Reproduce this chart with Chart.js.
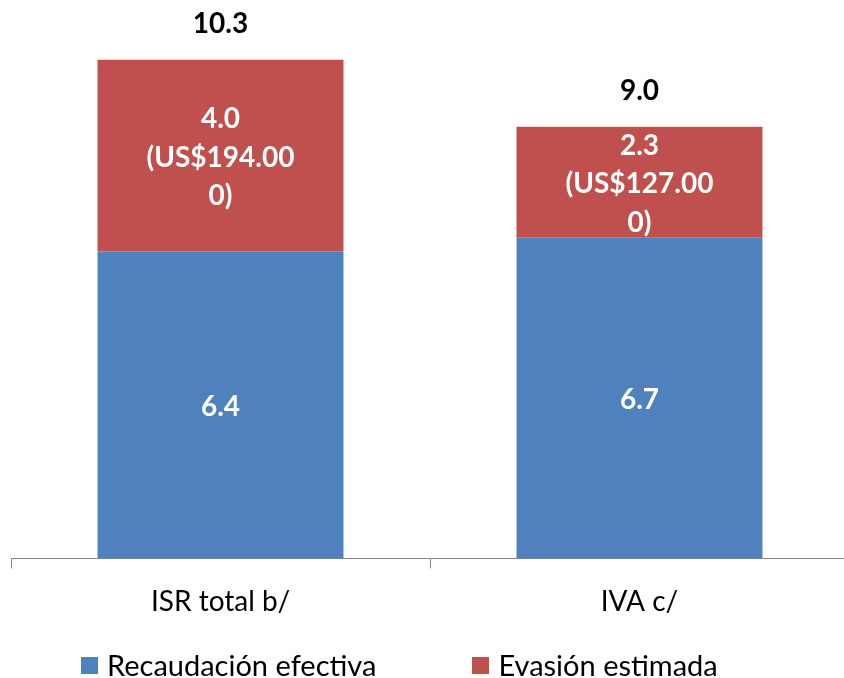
<!DOCTYPE html>
<html>
<head>
<meta charset="utf-8">
<script src="https://cdn.jsdelivr.net/npm/chart.js@4/dist/chart.umd.min.js"></script>
<style>
    html, body { margin: 0; padding: 0; background: #fff; overflow: hidden; }
    #wrap { position: relative; width: 844px; height: 678px; overflow: hidden; }
    #legend {
        position: absolute; left: 81px; top: 647px;
        display: flex; align-items: center; gap: 96px;
        font-family: Lato, sans-serif; font-size: 29px; color: #000;
        white-space: nowrap;
    }
    .legend-item { display: flex; align-items: center; }
    .legend-box { width: 17px; height: 17px; margin-right: 9px; margin-top: 2px; }
</style>
</head>
<body>
<div id="wrap">
    <canvas id="chart" width="850" height="678"></canvas>
    <div id="legend"></div>
</div>
<script>
// Data
const categories = ['ISR total b/', 'IVA c/'];
const recaudacion = [6.4, 6.7];
const evasion = [4.0, 2.3];
const evasionUsd = ['US$194.000', 'US$127.000'];
const totals = [10.3, 9.0];

const FONT = 'Lato';

// Break a long label into fixed-size pieces, like the original wraps it
function wrapText(text, size) {
    const parts = [];
    for (let i = 0; i < text.length; i += size) {
        parts.push(text.slice(i, i + size));
    }
    return parts;
}

// Labels inside the bars and totals on top
const barLabels = {
    id: 'barLabels',
    afterDatasetsDraw(chart) {
        const ctx = chart.ctx;
        const lineHeight = 38.5;
        ctx.save();
        ctx.textAlign = 'center';
        ctx.textBaseline = 'middle';
        ctx.font = 'bold 28px ' + FONT;

        chart.data.datasets.forEach((ds, i) => {
            chart.getDatasetMeta(i).data.forEach((bar, j) => {
                let lines = [ds.data[j].toFixed(1)];
                if (i === 1) {
                    lines = lines.concat(wrapText('(' + evasionUsd[j] + ')', 10));
                }
                const mid = (bar.y + bar.base) / 2 + 2;
                const start = mid - (lines.length - 1) * lineHeight / 2;
                ctx.fillStyle = '#ffffff';
                lines.forEach((line, k) => {
                    ctx.fillText(line, bar.x, start + k * lineHeight);
                });
            });
        });

        // totals above the stacks
        const topMeta = chart.getDatasetMeta(1);
        ctx.fillStyle = '#000000';
        topMeta.data.forEach((bar, j) => {
            ctx.fillText(totals[j].toFixed(1), bar.x, bar.y - 36);
        });
        ctx.restore();
    }
};

const chart = new Chart(document.getElementById('chart'), {
    type: 'bar',
    data: {
        labels: categories,
        datasets: [
            {
                label: 'Recaudación efectiva',
                data: recaudacion,
                backgroundColor: '#4F81BD',
                categoryPercentage: 0.587,
                barPercentage: 1
            },
            {
                label: 'Evasión estimada',
                data: evasion,
                backgroundColor: '#C0504D',
                categoryPercentage: 0.587,
                barPercentage: 1
            }
        ]
    },
    options: {
        responsive: false,
        animation: false,
        layout: {
            padding: { left: 11, right: 1, top: 7, bottom: 42 }
        },
        scales: {
            x: {
                stacked: true,
                border: { display: true, color: '#868686', width: 1 },
                grid: {
                    display: true,
                    drawOnChartArea: false,
                    drawTicks: true,
                    tickLength: 10,
                    color: '#868686',
                    offset: true
                },
                ticks: {
                    color: '#000000',
                    padding: 17,
                    font: { family: FONT, size: 28 }
                }
            },
            y: {
                stacked: true,
                display: false,
                min: 0,
                max: 11.5
            }
        },
        plugins: {
            legend: { display: false },
            tooltip: { enabled: false }
        }
    },
    plugins: [barLabels]
});

// HTML legend built from the datasets
const legendEl = document.getElementById('legend');
chart.data.datasets.forEach(ds => {
    const item = document.createElement('div');
    item.className = 'legend-item';
    const box = document.createElement('span');
    box.className = 'legend-box';
    box.style.background = ds.backgroundColor;
    const text = document.createElement('span');
    text.textContent = ds.label;
    item.appendChild(box);
    item.appendChild(text);
    legendEl.appendChild(item);
});
</script>
</body>
</html>
